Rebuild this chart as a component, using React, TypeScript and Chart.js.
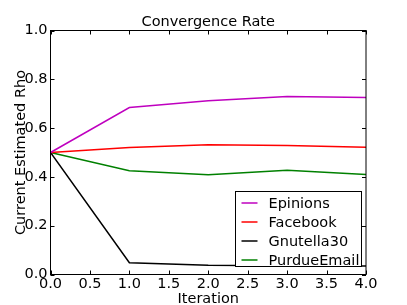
import React, { useEffect, useRef } from "react";
import { Chart, registerables } from "chart.js";

Chart.register(...registerables);

const iterations = [0, 1, 2, 3, 4];
const seriesNames = ["Epinions", "Facebook", "Gnutella30", "PurdueEmail"];
const epinions = [0.5, 0.684, 0.712, 0.729, 0.725];
const facebook = [0.5, 0.52, 0.532, 0.529, 0.522];
const gnutella30 = [0.5, 0.048, 0.038, 0.036, 0.035];
const purdueEmail = [0.5, 0.425, 0.409, 0.427, 0.41];
const seriesColors = ["#bf00bf", "#ff0000", "#000000", "#008000"];
const titleText = "Convergence Rate";
const xLabel = "Iteration";
const yLabel = "Current Estimated Rho";

const FONT = "DejaVu Sans";
const FS = 14.5;

const framePlugin = {
  id: "mplFrame",
  afterDraw(chart: any) {
    const { ctx, chartArea: ca } = chart;
    const xs = chart.scales.x;
    const ys = chart.scales.y;
    ctx.save();
    ctx.strokeStyle = "#000";
    ctx.lineWidth = 1;
    // inside ticks
    const tl = 4;
    ctx.beginPath();
    xs.ticks.forEach((t: any) => {
      const px = Math.round(xs.getPixelForValue(t.value)) + 0.5;
      ctx.moveTo(px, ca.bottom);
      ctx.lineTo(px, ca.bottom - tl);
      ctx.moveTo(px, ca.top);
      ctx.lineTo(px, ca.top + tl);
    });
    ys.ticks.forEach((t: any) => {
      const py = Math.round(ys.getPixelForValue(t.value)) + 0.5;
      ctx.moveTo(ca.left, py);
      ctx.lineTo(ca.left + tl, py);
      ctx.moveTo(ca.right, py);
      ctx.lineTo(ca.right - tl, py);
    });
    ctx.stroke();
    // frame
    ctx.strokeRect(ca.left, ca.top, ca.right - ca.left, ca.bottom - ca.top);

    // legend
    const bw = 126;
    const bh = 75;
    const bx = Math.round(ca.right - 5 - bw) + 0.5;
    const by = Math.round(ca.bottom - 8.5 - bh) + 0.5;
    ctx.fillStyle = "#fff";
    ctx.fillRect(bx, by, bw, bh);
    ctx.strokeRect(bx, by, bw, bh);
    ctx.font = `${FS}px "${FONT}"`;
    ctx.textAlign = "left";
    ctx.textBaseline = "alphabetic";
    chart.data.datasets.forEach((ds: any, i: number) => {
      const ly = by + 11.5 + i * 19;
      ctx.strokeStyle = ds.borderColor;
      ctx.lineWidth = 1.5;
      ctx.beginPath();
      ctx.moveTo(bx + 6, ly);
      ctx.lineTo(bx + 22, ly);
      ctx.stroke();
      ctx.fillStyle = "#000";
      ctx.fillText(ds.label, bx + 33, ly + 5);
    });

    // title and axis labels
    ctx.fillStyle = "#000";
    ctx.textAlign = "center";
    ctx.fillText(titleText, (ca.left + ca.right) / 2, 25.5);
    ctx.fillText(xLabel, (ca.left + ca.right) / 2, 303);
    ctx.save();
    ctx.translate(25, (ca.top + ca.bottom) / 2);
    ctx.rotate(-Math.PI / 2);
    ctx.fillText(yLabel, 0, 0);
    ctx.restore();
    ctx.restore();
  },
};

export default function App() {
  const ref = useRef<HTMLCanvasElement>(null);
  useEffect(() => {
    document.body.style.margin = "0";
    const seriesData = [epinions, facebook, gnutella30, purdueEmail];
    const chart = new Chart(ref.current!, {
      type: "line",
      data: {
        datasets: seriesNames.map((name, i) => ({
          label: name,
          data: iterations.map((x, j) => ({ x, y: seriesData[i][j] })),
          borderColor: seriesColors[i],
          backgroundColor: seriesColors[i],
          borderWidth: 1.5,
          pointRadius: 0,
          tension: 0,
          fill: false,
        })),
      },
      options: {
        animation: false,
        responsive: false,
        maintainAspectRatio: false,
        layout: { padding: { left: 0, right: 41, top: 30.5, bottom: 0 } },
        plugins: {
          legend: { display: false },
          title: { display: false },
          tooltip: { enabled: false },
        },
        scales: {
          x: {
            type: "linear",
            min: 0,
            max: 4,
            grid: { display: false, drawTicks: false },
            border: { display: false },
            ticks: {
              stepSize: 0.5,
              color: "#000",
              font: { family: FONT, size: FS },
              padding: 1,
              maxRotation: 0,
              autoSkip: false,
              callback: (v: any) => Number(v).toFixed(1),
            },
            afterFit: (s: any) => {
              s.height = 30.5;
            },
          },
          y: {
            type: "linear",
            min: 0,
            max: 1,
            grid: { display: false, drawTicks: false },
            border: { display: false },
            ticks: {
              stepSize: 0.2,
              color: "#000",
              font: { family: FONT, size: FS },
              padding: 3,
              autoSkip: false,
              callback: (v: any) => Number(v).toFixed(1),
            },
            afterFit: (s: any) => {
              s.width = 50.5;
            },
          },
        },
      },
      plugins: [framePlugin],
    });
    return () => chart.destroy();
  }, []);
  return <canvas ref={ref} width={407} height={305} style={{ display: "block" }} />;
}
